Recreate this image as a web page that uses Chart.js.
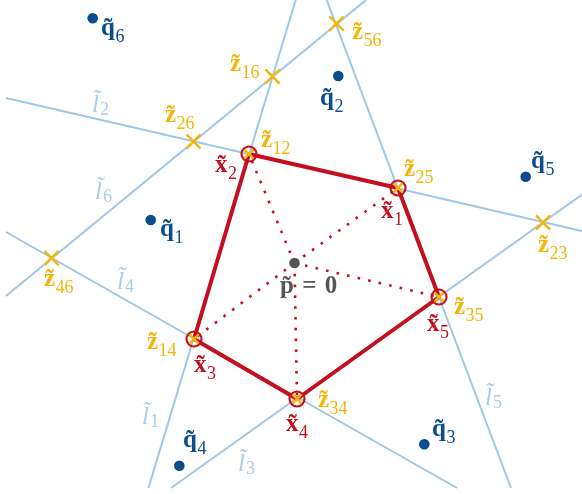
<!DOCTYPE html>
<html>
<head>
<meta charset="utf-8">
<script src="https://cdn.jsdelivr.net/npm/chart.js@4.4.1/dist/chart.umd.min.js"></script>
<style>
  html, body { margin: 0; padding: 0; background: #ffffff; }
  #wrap { width: 582px; height: 494px; }
</style>
</head>
<body>
<div id="wrap"><canvas id="c" width="582" height="494"></canvas></div>
<script>
// Plane coordinates (x to the right, y downward) of the construction.

// Six lines l1..l6, each given by its two visible end points.
const lineNames = ['l1', 'l2', 'l3', 'l4', 'l5', 'l6'];
const lineEnds = [
  [[295.7, 0], [148.5, 488]],
  [[6, 98], [582, 231]],
  [[582, 194.5], [171, 488]],
  [[6, 232], [457, 488]],
  [[326.7, 0], [511, 488]],
  [[6, 296], [366, 0]]
];

// Pairwise intersections z_ij of the lines.
const zNames = ['12', '25', '35', '34', '14', '16', '26', '56', '23', '46'];
const zPoints = [
  [249, 154], [398, 188], [439, 297], [297, 399], [194, 339],
  [272.5, 76.5], [193.5, 141.5], [336.5, 23.5], [543, 222.5], [51.5, 258]
];

// Polygon vertices x1..x5 (they coincide with z25, z12, z14, z34, z35).
const xNames = ['1', '2', '3', '4', '5'];
const xPoints = [[398, 188], [249, 154], [194, 339], [297, 399], [439, 297]];
const polygonOrder = ['2', '1', '5', '4', '3', '2'];

// Centre point p and the sites q1..q6.
const pPoint = [294.5, 263];
const qNames = ['1', '2', '3', '4', '5', '6'];
const qPoints = [
  [150.7, 220], [338.3, 76], [424.3, 444.3], [179.3, 465.7], [525.7, 176.7], [92.7, 18.3]
];

const BLUE_LINE = '#9dc6ea';
const BLUE_TEXT = '#a9cdee';
const GOLD = '#f5b50a';
const RED = '#c3101f';
const NAVY = '#0b4c8c';
const GREY = '#555555';

const pt = a => ({ x: a[0], y: a[1] });
const byName = (names, pts, n) => pts[names.indexOf(n)];

const datasets = [];

lineEnds.forEach((e, i) => datasets.push({
  label: lineNames[i], data: e.map(pt), showLine: true,
  borderColor: BLUE_LINE, borderWidth: 2, pointRadius: 0, order: 10
}));

xPoints.forEach((v, i) => datasets.push({
  label: 'ray ' + xNames[i], data: [pt(pPoint), pt(v)], showLine: true,
  borderColor: RED, borderWidth: 2.6, borderDash: [2.6, 8.2], pointRadius: 0, order: 9
}));

datasets.push({
  label: 'polygon', data: polygonOrder.map(n => pt(byName(xNames, xPoints, n))),
  showLine: true, borderColor: RED, borderWidth: 4, borderJoinStyle: 'round',
  pointRadius: 0, order: 8
});

datasets.push({
  label: 'vertex rings', data: xPoints.map(pt), showLine: false,
  pointStyle: 'circle', pointRadius: 7.5, pointBorderWidth: 2.2,
  pointBorderColor: RED, pointBackgroundColor: 'rgba(255,255,255,0)', order: 7
});

datasets.push({
  label: 'z marks', data: zPoints.map(pt), showLine: false,
  pointStyle: 'crossRot',
  pointRadius: zPoints.map(z => xPoints.some(v => v[0] === z[0] && v[1] === z[1]) ? 6.5 : 10),
  pointBorderWidth: 2.4, pointBorderColor: GOLD, order: 6
});

datasets.push({
  label: 'q', data: qPoints.map(pt), showLine: false, pointStyle: 'circle',
  pointRadius: 5.3, pointBorderWidth: 0, pointBackgroundColor: NAVY, order: 5
});

datasets.push({
  label: 'p', data: [pt(pPoint)], showLine: false, pointStyle: 'circle',
  pointRadius: 5.3, pointBorderWidth: 0, pointBackgroundColor: GREY, order: 5
});

// Text labels: glyph, subscript, style, colour and baseline anchor.
const labelSpots = [
  { t: 'q\u0303', s: '6', k: 'b', c: NAVY, at: [101, 35] },
  { t: 'q\u0303', s: '1', k: 'b', c: NAVY, at: [160, 236] },
  { t: 'q\u0303', s: '2', k: 'b', c: NAVY, at: [320, 105] },
  { t: 'q\u0303', s: '5', k: 'b', c: NAVY, at: [531, 168] },
  { t: 'q\u0303', s: '4', k: 'b', c: NAVY, at: [183, 447] },
  { t: 'q\u0303', s: '3', k: 'b', c: NAVY, at: [432, 436] },
  { t: 'z\u0303', s: '16', k: 'b', c: GOLD, at: [230, 71] },
  { t: 'z\u0303', s: '26', k: 'b', c: GOLD, at: [165, 122] },
  { t: 'z\u0303', s: '12', k: 'b', c: GOLD, at: [261, 147] },
  { t: 'z\u0303', s: '56', k: 'b', c: GOLD, at: [352, 39] },
  { t: 'z\u0303', s: '25', k: 'b', c: GOLD, at: [404, 176] },
  { t: 'z\u0303', s: '23', k: 'b', c: GOLD, at: [538, 252] },
  { t: 'z\u0303', s: '46', k: 'b', c: GOLD, at: [44, 286] },
  { t: 'z\u0303', s: '14', k: 'b', c: GOLD, at: [147, 349] },
  { t: 'z\u0303', s: '34', k: 'b', c: GOLD, at: [318, 407] },
  { t: 'z\u0303', s: '35', k: 'b', c: GOLD, at: [454, 314] },
  { t: 'x\u0303', s: '2', k: 'b', c: RED, at: [215, 172] },
  { t: 'x\u0303', s: '1', k: 'b', c: RED, at: [381, 218] },
  { t: 'x\u0303', s: '3', k: 'b', c: RED, at: [194, 372] },
  { t: 'x\u0303', s: '4', k: 'b', c: RED, at: [286, 431] },
  { t: 'x\u0303', s: '5', k: 'b', c: RED, at: [427, 331] },
  { t: 'l\u0303', s: '2', k: 'i', c: BLUE_TEXT, at: [92, 112] },
  { t: 'l\u0303', s: '6', k: 'i', c: BLUE_TEXT, at: [95, 199] },
  { t: 'l\u0303', s: '4', k: 'i', c: BLUE_TEXT, at: [117, 289] },
  { t: 'l\u0303', s: '1', k: 'i', c: BLUE_TEXT, at: [142, 424] },
  { t: 'l\u0303', s: '3', k: 'i', c: BLUE_TEXT, at: [238, 471] },
  { t: 'l\u0303', s: '5', k: 'i', c: BLUE_TEXT, at: [485, 405] },
  { t: 'p\u0303\u2004=\u20040', s: '', k: 'b', c: GREY, at: [280, 293] }
];

const SERIF = '"Liberation Serif", "DejaVu Serif", serif';

const labelPlugin = {
  id: 'labels',
  afterDatasetsDraw(chart) {
    const ctx = chart.ctx, xs = chart.scales.x, ys = chart.scales.y;
    ctx.save();
    ctx.textBaseline = 'alphabetic';
    ctx.textAlign = 'left';
    labelSpots.forEach(l => {
      const px = xs.getPixelForValue(l.at[0]);
      const py = ys.getPixelForValue(l.at[1]);
      ctx.fillStyle = l.c;
      ctx.font = (l.k === 'b' ? 'bold ' : 'italic ') + '25px ' + SERIF;
      ctx.fillText(l.t, px, py);
      const w = ctx.measureText(l.t).width;
      if (l.s) {
        ctx.font = '18px ' + SERIF;
        const drop = l.k === 'i' ? 3 : 7;
        ctx.fillText(l.s, px + w + (l.k === 'i' ? 1 : 0.5), py + drop);
      }
    });
    ctx.restore();
  }
};

new Chart(document.getElementById('c'), {
  type: 'scatter',
  data: { datasets },
  options: {
    responsive: false,
    animation: false,
    devicePixelRatio: 1,
    layout: { padding: 0, autoPadding: false },
    plugins: { legend: { display: false }, tooltip: { enabled: false } },
    scales: {
      x: { type: 'linear', min: 0, max: 582, display: false },
      y: { type: 'linear', min: 0, max: 494, reverse: true, display: false }
    }
  },
  plugins: [labelPlugin]
});
</script>
</body>
</html>
